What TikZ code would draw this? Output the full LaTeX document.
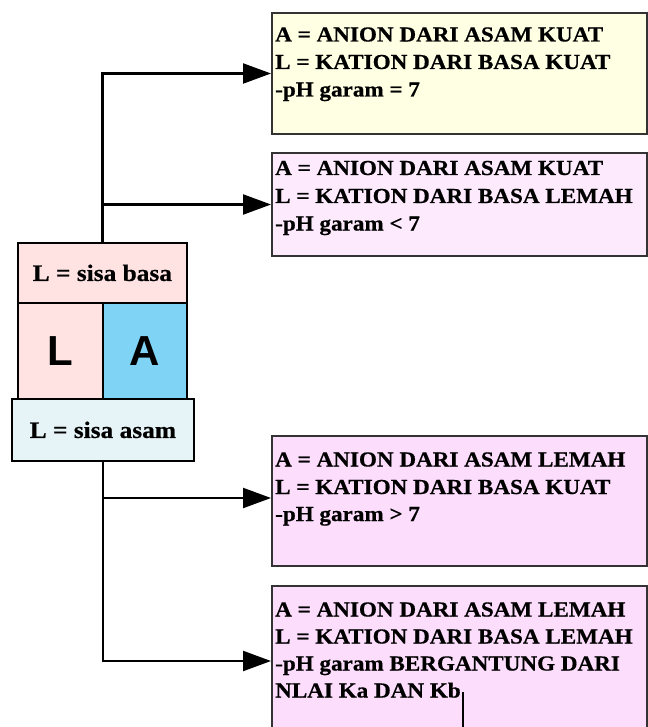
\documentclass[tikz,border=0pt]{standalone}
\usepackage{fontspec}
\usetikzlibrary{arrows.meta}
\newfontfamily\boxfont[FakeStretch=1.08,FakeBold=0.6]{Liberation Serif}
\newfontfamily\bigsans{Liberation Sans}
\definecolor{bordergray}{HTML}{333333}
\definecolor{fyellow}{HTML}{FFFFE4}
\definecolor{fpinkA}{HTML}{FDEBFD}
\definecolor{fpinkB}{HTML}{FCDDFC}
\definecolor{fsalmon}{HTML}{FFE2E2}
\definecolor{fblue}{HTML}{7FD4F5}
\definecolor{fcyan}{HTML}{E6F4F7}
\tikzset{
  panel/.style={draw=bordergray, line width=2pt, anchor=north west, inner sep=0pt},
  cell/.style={draw=black, line width=1.8pt, anchor=north west, inner sep=0pt},
  line/.style={anchor=base west, inner sep=0pt, font=\boxfont\bfseries\fontsize{21.4}{25}\selectfont},
  lbl/.style={inner sep=0pt, font=\boxfont\bfseries\fontsize{23.5}{28}\selectfont},
  big/.style={inner sep=0pt, font=\bigsans\bfseries\fontsize{42}{48}\selectfont},
  arr/.style={line width=2.2pt, -{Triangle[length=28pt,width=20pt]}}
}
\begin{document}
\begin{tikzpicture}[x=1pt,y=-1pt]
\useasboundingbox (0,0) rectangle (647,727);
% right panels
\node[panel, fill=fyellow, minimum width=375pt, minimum height=121pt] (b1) at (271,12) {};
\node[panel, fill=fpinkA, minimum width=375pt, minimum height=103pt] (b2) at (271,152) {};
\node[panel, fill=fpinkB, minimum width=375pt, minimum height=130pt] (b3) at (271,435) {};
\node[panel, fill=fpinkB, minimum width=375pt, minimum height=150pt] (b4) at (271,585) {};
% texts
\node[line] (t11) at (275,41.5) {A = ANION DARI ASAM KUAT};
\node[line] (t12) at (275,69) {L = KATION DARI BASA KUAT};
\node[line] (t13) at (275,96.5) {-pH garam = 7};
\node[line] (t21) at (275,175) {A = ANION DARI ASAM KUAT};
\node[line] (t22) at (275,203) {L = KATION DARI BASA LEMAH};
\node[line] (t23) at (275,230.5) {-pH garam < 7};
\node[line] (t31) at (275,466.5) {A = ANION DARI ASAM LEMAH};
\node[line] (t32) at (275,494) {L = KATION DARI BASA KUAT};
\node[line] (t33) at (275,521) {-pH garam > 7};
\node[line] (t41) at (275,616.5) {A = ANION DARI ASAM LEMAH};
\node[line] (t42) at (275,643.5) {L = KATION DARI BASA LEMAH};
\node[line] (t43) at (275,670.5) {-pH garam BERGANTUNG DARI};
\node[line] (t44) at (275,697.5) {NLAI Ka DAN Kb};
\coordinate (c1) at (463,692);
\coordinate (c2) at (463,730);
\draw[line width=1.8pt] (c1) -- (c2);
% left stack
\node[cell, fill=fsalmon, minimum width=169pt, minimum height=60pt] (sb) at (17,242) {};
\node[cell, fill=fsalmon, minimum width=85pt, minimum height=96pt] (cl) at (17,302) {};
\node[cell, fill=fblue, minimum width=84pt, minimum height=96pt] (ca) at (102,302) {};
\node[cell, fill=fcyan, minimum width=182pt, minimum height=62pt] (sa) at (11,398) {};
\node[lbl] (lsb) at (sb.center) {L = sisa basa};
\node[lbl] (lsa) at (sa.center) {L = sisa asam};
\node[big] (lL) at (cl.center) {L};
\node[big] (lA) at (ca.center) {A};
% connectors
\draw[arr] (sb.north) |- (b1.west);
\draw[arr] (sb.north) |- (b2.west);
\draw[arr] (sa.south) |- ([yshift=3pt]b3.west);
\draw[arr] (sa.south) |- (b4.west);
\end{tikzpicture}
\end{document}
